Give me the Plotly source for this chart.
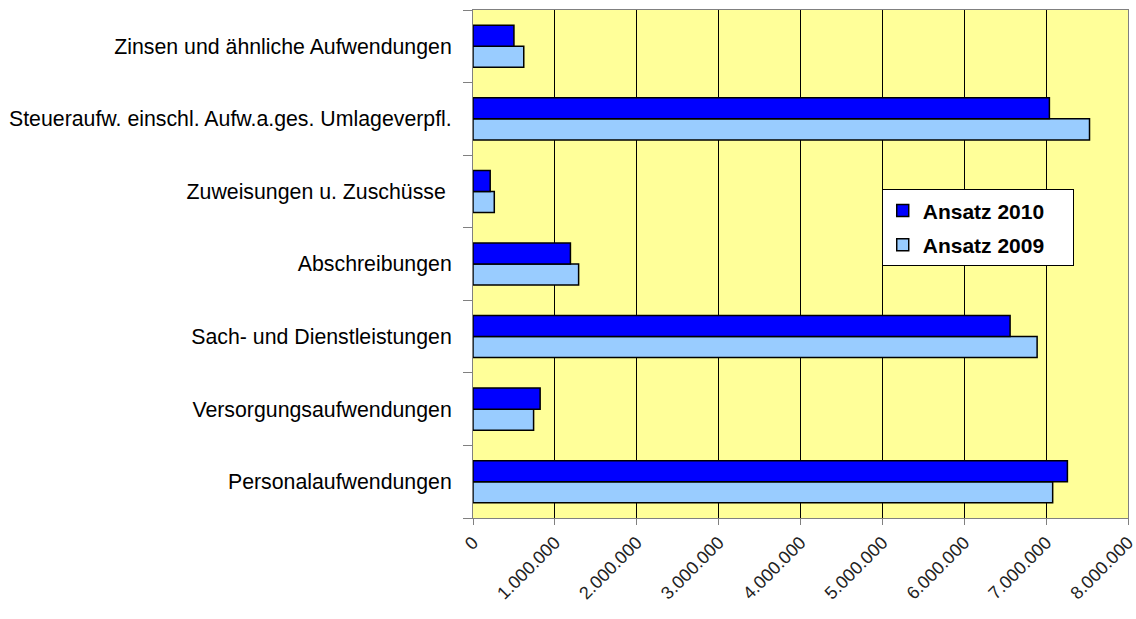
import plotly.graph_objects as go

categories = [
    "Personalaufwendungen",
    "Versorgungsaufwendungen",
    "Sach- und Dienstleistungen",
    "Abschreibungen",
    "Zuweisungen u. Zuschüsse\u00a0",
    "Steueraufw. einschl. Aufw.a.ges. Umlageverpfl.",
    "Zinsen und ähnliche Aufwendungen",
]
ansatz_2010 = [7260000, 820000, 6560000, 1190000, 210000, 7040000, 500000]
ansatz_2009 = [7080000, 740000, 6890000, 1290000, 260000, 7530000, 620000]
x_ticks = [0, 1000000, 2000000, 3000000, 4000000, 5000000, 6000000, 7000000, 8000000]
legend_pad = "\u00a0" * 4

fig = go.Figure()
fig.add_trace(go.Bar(
    y=categories, x=ansatz_2009, orientation="h", name="Ansatz 2009" + legend_pad,
    legendgroup="g2009", legendrank=2,
    marker=dict(color="#99CCFF", line=dict(color="black", width=1.5)),
))
fig.add_trace(go.Bar(
    y=categories, x=ansatz_2010, orientation="h", name="Ansatz 2010" + legend_pad,
    legendgroup="g2010", legendrank=1,
    marker=dict(color="#0000FF", line=dict(color="black", width=1.5)),
))

fig.update_layout(
    width=1136, height=619,
    margin=dict(l=473, r=8, t=10, b=101, autoexpand=False),
    paper_bgcolor="white",
    plot_bgcolor="#FFFF99",
    barmode="group",
    bargap=0.42,
    bargroupgap=0,
    separators=",.",
    font=dict(family="Liberation Sans, Arial, sans-serif", size=21, color="black"),
    legend=dict(
        x=0.624, y=0.647, xanchor="left", yanchor="top",
        bgcolor="white", bordercolor="black", borderwidth=1,
        font=dict(family="Liberation Sans, Arial, sans-serif", size=21, color="black", weight="bold"),
        traceorder="grouped",
        tracegroupgap=4,
    ),
    showlegend=True,
)
fig.update_xaxes(
    range=[0, 8000000],
    tickvals=x_ticks,
    tickformat=",d",
    tickangle=-45,
    tickfont=dict(size=18, color="#222222"),
    ticklabeloverflow="allow",
    showgrid=True, gridcolor="black", gridwidth=1,
    showline=True, linecolor="#808080", linewidth=1, mirror=True,
    ticks="outside", ticklen=6, tickcolor="#808080",
    zeroline=False,
    automargin=False,
)
fig.update_yaxes(
    tickson="boundaries",
    ticks="outside", ticklen=9, tickcolor="#808080",
    showline=True, linecolor="#808080", linewidth=1, mirror=True,
    tickfont=dict(size=21.3),
    ticklabelstandoff=16,
    automargin=False,
)

fig.write_html(
    "out.html",
    config={"displayModeBar": False},
    post_script="document.body.style.margin='0';document.body.style.overflow='hidden';",
)
